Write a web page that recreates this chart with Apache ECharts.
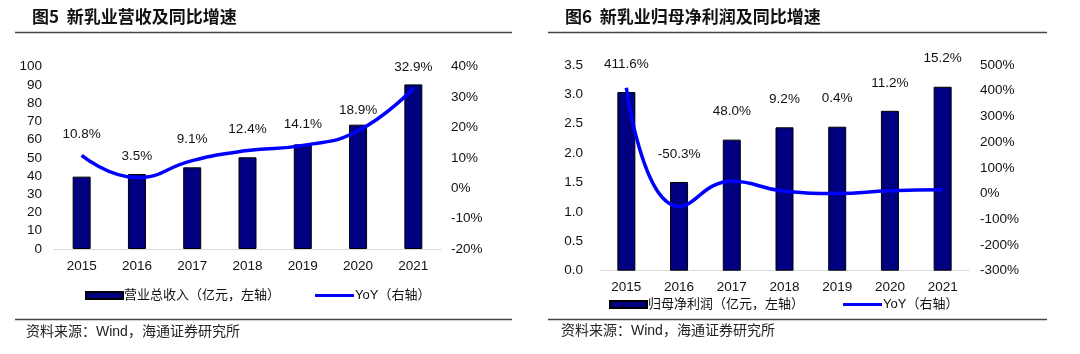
<!DOCTYPE html>
<html>
<head>
<meta charset="utf-8">
<script src="https://cdn.jsdelivr.net/npm/echarts@6/dist/echarts.min.js"></script>
<style>
  html, body { margin: 0; padding: 0; background: #fff; }
  #main { width: 1080px; height: 354px; }
</style>
</head>
<body>
<div id="main"></div>
<script>
// chart data
var years = ['2015', '2016', '2017', '2018', '2019', '2020', '2021'];
var revenue = [39.7, 41.1, 44.8, 50.3, 57.4, 68.2, 90.3];      // 亿元
var revenueYoy = [10.8, 3.5, 9.1, 12.4, 14.1, 18.9, 32.9];     // %
var profit = [3.04, 1.51, 2.23, 2.44, 2.45, 2.72, 3.13];       // 亿元
var profitYoy = [411.6, -50.3, 48.0, 9.2, 0.4, 11.2, 15.2];    // %

// axis ranges [min, max, interval]
var revAxis = [0, 100, 10];
var revYoyAxis = [-20, 40, 10];
var profAxis = [0, 3.5, 0.5];
var profYoyAxis = [-300, 500, 100];

var numFont = '"Liberation Sans", Arial, sans-serif';
var cjkFont = '"Noto Sans CJK SC", "Liberation Sans", sans-serif';
var mixFont = '"Liberation Sans", "Noto Sans CJK SC", sans-serif';
var navy = '#000080';
var blue = '#0000ff';

function valueAxis(gridIndex, r, fmt, margin) {
    return {
        type: 'value', gridIndex: gridIndex,
        min: r[0], max: r[1], interval: r[2],
        splitLine: { show: false },
        axisLine: { show: false },
        axisTick: { show: false },
        axisLabel: { color: '#111', fontSize: 13.5, fontFamily: numFont, margin: margin, formatter: fmt }
    };
}

function catAxis(gridIndex) {
    return {
        type: 'category', gridIndex: gridIndex, data: years,
        axisLine: { lineStyle: { color: '#d9d9d9', width: 1 } },
        axisTick: { show: false },
        axisLabel: { color: '#111', fontSize: 13.5, fontFamily: numFont, margin: 10 }
    };
}

function pct(v) { return v + '%'; }

function legendItem(name, left, top, isLine) {
    return {
        left: left, top: top, padding: 0,
        itemWidth: isLine ? 39 : 37,
        itemHeight: isLine ? 3 : 7,
        data: [{ name: name, icon: 'rect' }],
        selectedMode: false,
        textStyle: { color: '#111', fontSize: 13, fontFamily: mixFont, padding: [0, 0, 0, -4] }
    };
}

var myChart = echarts.init(document.getElementById('main'));
var option = {
    backgroundColor: '#fff',
    animation: false,
    title: [
        { text: '图5  新乳业营收及同比增速', left: 27, top: 3,
          textStyle: { fontSize: 17, fontWeight: 'bold', color: '#111', fontFamily: cjkFont } },
        { text: '图6  新乳业归母净利润及同比增速', left: 560, top: 3,
          textStyle: { fontSize: 17, fontWeight: 'bold', color: '#111', fontFamily: cjkFont } }
    ],
    graphic: [
        { type: 'line', shape: { x1: 15, y1: 32.5, x2: 512, y2: 32.5 }, style: { stroke: '#444', lineWidth: 1.5 } },
        { type: 'line', shape: { x1: 548, y1: 32.5, x2: 1047, y2: 32.5 }, style: { stroke: '#444', lineWidth: 1.5 } },
        { type: 'line', shape: { x1: 15, y1: 319.5, x2: 512, y2: 319.5 }, style: { stroke: '#444', lineWidth: 1.5 } },
        { type: 'line', shape: { x1: 548, y1: 319.5, x2: 1047, y2: 319.5 }, style: { stroke: '#444', lineWidth: 1.5 } },
        { type: 'text', left: 26, top: 325, style: { text: '资料来源：Wind，海通证券研究所', fill: '#222', font: '14px ' + mixFont } },
        { type: 'text', left: 561, top: 324, style: { text: '资料来源：Wind，海通证券研究所', fill: '#222', font: '14px ' + mixFont } }
    ],
    legend: [
        legendItem('营业总收入（亿元，左轴）', 85, 289, false),
        legendItem('YoY（右轴）', 315, 289, true),
        legendItem('归母净利润（亿元，左轴）', 609, 298, false),
        legendItem('YoY（右轴） ', 843, 298, true)
    ],
    grid: [
        { left: 54, top: 66.7, width: 387, height: 182.3 },
        { left: 600, top: 65, width: 369, height: 205.7 }
    ],
    xAxis: [catAxis(0), catAxis(1)],
    yAxis: [
        valueAxis(0, revAxis, null, 12),
        valueAxis(0, revYoyAxis, pct, 10),
        valueAxis(1, profAxis, function (v) { return v.toFixed(1); }, 17),
        valueAxis(1, profYoyAxis, pct, 11)
    ],
    series: [
        {
            name: '营业总收入（亿元，左轴）', type: 'bar', xAxisIndex: 0, yAxisIndex: 0,
            data: revenue, barWidth: 18,
            itemStyle: { color: navy, borderColor: '#000', borderWidth: 1 }
        },
        {
            name: 'YoY（右轴）', type: 'line', xAxisIndex: 0, yAxisIndex: 1,
            data: revenueYoy, smooth: 0.5, symbol: 'circle', symbolSize: 0, showSymbol: true,
            lineStyle: { color: blue, width: 3.5 }, itemStyle: { color: blue },
            label: {
                show: true, position: 'top', distance: 14,
                color: '#111', fontSize: 13.5, fontFamily: numFont,
                formatter: function (p) { return p.value.toFixed(1) + '%'; }
            }
        },
        {
            name: '归母净利润（亿元，左轴）', type: 'bar', xAxisIndex: 1, yAxisIndex: 2,
            data: profit, barWidth: 18,
            itemStyle: { color: navy, borderColor: '#000', borderWidth: 1 },
            label: {
                show: true, position: 'top', distance: 21,
                color: '#111', fontSize: 13.5, fontFamily: numFont,
                formatter: function (p) { return profitYoy[p.dataIndex].toFixed(1) + '%'; }
            }
        },
        {
            name: 'YoY（右轴） ', type: 'line', xAxisIndex: 1, yAxisIndex: 3,
            data: profitYoy, smooth: 0.5, symbol: 'none',
            lineStyle: { color: blue, width: 3.5 }, itemStyle: { color: blue }
        }
    ]
};
myChart.setOption(option);
</script>
</body>
</html>
